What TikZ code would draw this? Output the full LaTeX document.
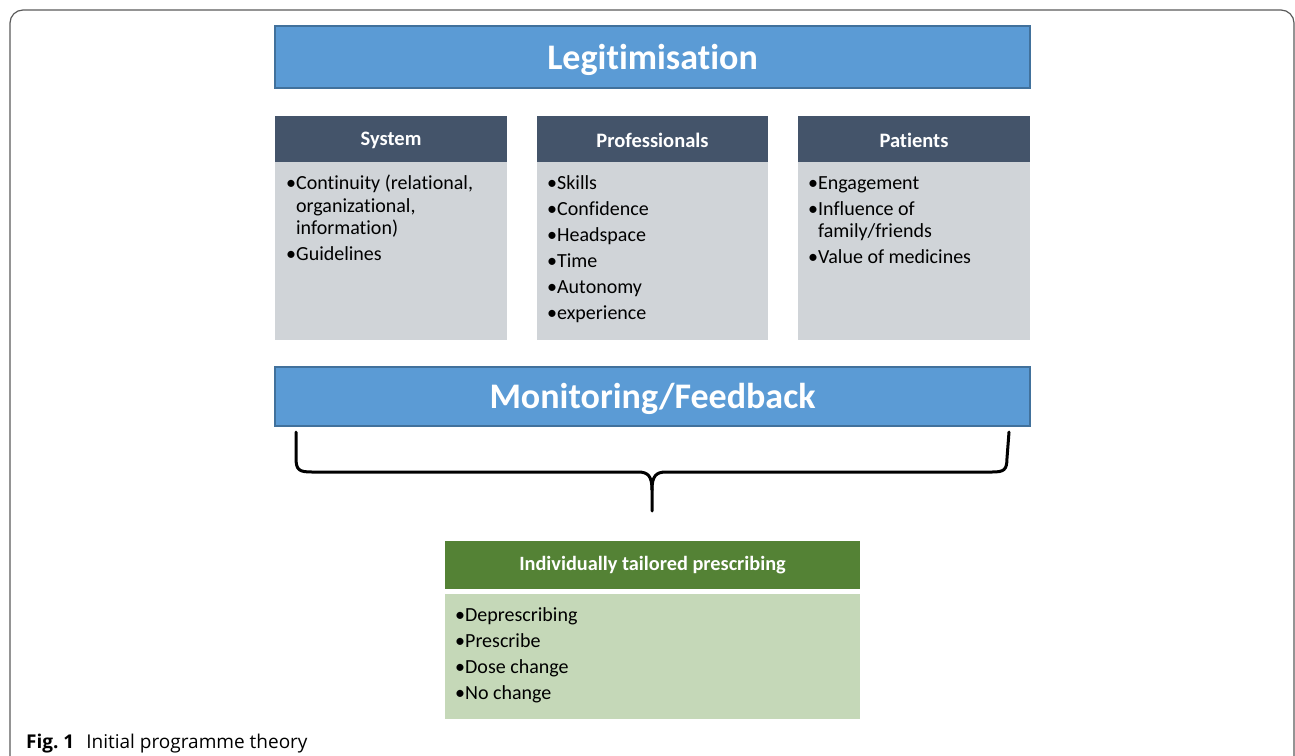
\documentclass[tikz,border=0pt]{standalone}
\usepackage{fontspec}
\setmainfont{Carlito}[Ligatures=NoCommon]
\newfontfamily\capfont{Open Sans}
\definecolor{legblue}{HTML}{5B9BD5}
\definecolor{legborder}{HTML}{41719C}
\definecolor{slate}{HTML}{44546A}
\definecolor{graybody}{HTML}{D0D4D8}
\definecolor{greenhead}{HTML}{548235}
\definecolor{greenbody}{HTML}{C5D8B8}
\definecolor{framegray}{HTML}{5A5A5A}
\tikzset{
  bluebar/.style={draw=legborder, line width=1.8pt, fill=legblue},
  headbox/.style={fill=slate},
  bodybox/.style={fill=graybody},
  ghead/.style={fill=greenhead},
  gbody/.style={fill=greenbody},
  bartext/.style={text=white, font=\fontsize{36}{40}\selectfont\bfseries, inner sep=0pt},
  headtext/.style={text=white, font=\fontsize{20.5}{24}\selectfont\bfseries, inner sep=0pt},
  bodytext/.style={text=black, font=\fontsize{20}{24}\selectfont, inner sep=0pt, anchor=base west},
  bracestyle/.style={line width=3pt, line join=round, line cap=round},
}
\begin{document}
\begin{tikzpicture}[x=1pt,y=-1pt]
\useasboundingbox (0,0) rectangle (1295,755);
\clip (0,0) rectangle (1295,755);
% outer frame
\draw[framegray, line width=1.2pt, rounded corners=13pt] (10,10) rectangle (1294,800);

% Legitimisation
\path[bluebar] (275,26) rectangle (1030,88);
\node[bartext] (leg) at (652.5,60) {Legitimisation};

% three columns
\path[headbox] (275,116) rectangle (507,162);
\path[bodybox] (275,162) rectangle (507,340);
\path[headbox] (537,116) rectangle (768,162);
\path[bodybox] (537,162) rectangle (768,340);
\path[headbox] (798,116) rectangle (1030,162);
\path[bodybox] (798,162) rectangle (1030,340);
\node[headtext] (sys) at (391,140) {System};
\node[headtext] (prof) at (652.5,140) {Professionals};
\node[headtext] (pat) at (914,140) {Patients};

% System items
\node[bodytext] (s1) at (286,189) {•Continuity (relational,};
\node[bodytext] (s2) at (286,212) {\phantom{•}organizational,};
\node[bodytext] (s3) at (286,234) {\phantom{•}information)};
\node[bodytext] (s4) at (286,260) {•Guidelines};

% Professionals items
\node[bodytext] (p1) at (547,189) {•Skills};
\node[bodytext] (p2) at (547,215) {•Confidence};
\node[bodytext] (p3) at (547,241) {•Headspace};
\node[bodytext] (p4) at (547,267) {•Time};
\node[bodytext] (p5) at (547,293) {•Autonomy};
\node[bodytext] (p6) at (547,319) {•experience};

% Patients items
\node[bodytext] (t1) at (808,189) {•Engagement};
\node[bodytext] (t2) at (808,215) {•Influence of};
\node[bodytext] (t3) at (808,237) {\phantom{•}family/friends};
\node[bodytext] (t4) at (808,263) {•Value of medicines};

% Monitoring / Feedback
\path[bluebar] (275,367) rectangle (1030,426);
\node[bartext] (mon) at (652.5,399) {Monitoring/Feedback};

% brace
\coordinate (bl) at (296,432);
\coordinate (br) at (1009,432);
\coordinate (btip) at (652,511);
\draw[bracestyle] (bl) -- (296,458) .. controls (296,470) and (299,472) .. (312,472)
  -- (638,472) .. controls (648,472) and (652,476) .. (652,490) -- (btip);
\draw[bracestyle] (br) -- (1007,458) .. controls (1007,470) and (1004,472) .. (992,472)
  -- (666,472) .. controls (656,472) and (652,476) .. (652,490);

% Individually tailored prescribing
\path[ghead] (445,541) rectangle (860,589);
\path[gbody] (445,594) rectangle (860,719);
\node[headtext, font=\fontsize{20.3}{24}\selectfont\bfseries] (itp) at (652.5,565) {Individually tailored prescribing};
\node[bodytext] (g1) at (455,621) {•Deprescribing};
\node[bodytext] (g2) at (455,647) {•Prescribe};
\node[bodytext] (g3) at (455,673) {•Dose change};
\node[bodytext] (g4) at (455,699) {•No change};

% caption
\node[anchor=base west, inner sep=0pt, font=\capfont\fontsize{19}{22}\selectfont] (cap) at (26,748)
  {{\bfseries Fig.\ 1}\hspace{12pt}Initial programme theory};
\end{tikzpicture}
\end{document}
